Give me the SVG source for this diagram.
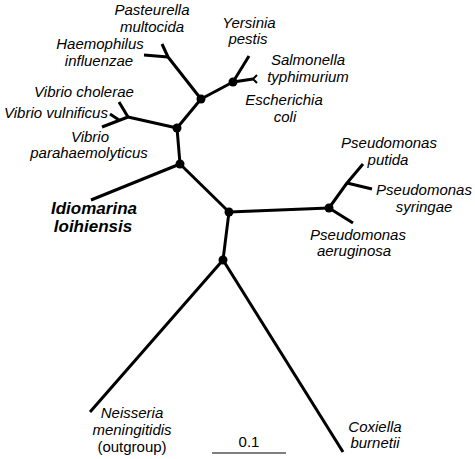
<svg xmlns="http://www.w3.org/2000/svg" width="475" height="459" viewBox="0 0 475 459">
<style>
.e{stroke:#000;stroke-width:3;fill:none;stroke-linecap:butt;stroke-linejoin:round}
.n{fill:#000}
text{font-family:"Liberation Sans",Arial,sans-serif;font-size:15px;font-style:italic;fill:#000;text-anchor:middle}
.b{font-weight:bold;font-size:17px}
.r{font-style:normal}
</style>
<rect width="475" height="459" fill="#fff"/>
<g id="connectors">
<path class="e" d="M223,260 L90,412"/>
<path class="e" d="M223,260 L343,452"/>
<path class="e" d="M223,260 L229,212"/>
<path class="e" d="M229,212 L329,208"/>
<path class="e" d="M229,212 L180,164"/>
<path class="e" d="M180,164 L91,200"/>
<path class="e" d="M180,164 L177,128"/>
<path class="e" d="M177,128 L128,117 L102,127"/>
<path class="e" d="M128,117 L119,102"/>
<path class="e" d="M119,120 L110,114"/>
<path class="e" d="M177,128 L201,99"/>
<path class="e" d="M201,99 L168,57 L162,44"/>
<path class="e" d="M168,57 L144,55"/>
<path class="e" d="M201,99 L233,82"/>
<path class="e" d="M233,82 L249,56"/>
<path class="e" d="M233,82 L253,79"/>
<path class="e" d="M253,79 L257,75 M253,79 L257,83" style="stroke-width:2"/>
<path class="e" d="M329,208 L347,183 L363,164"/>
<path class="e" d="M347,183 L372,189"/>
<path class="e" d="M329,208 L353,223"/>
<path d="M212,453 L286,453" stroke="#000" stroke-width="1.2"/>
</g>
<g id="n1"><circle class="n" cx="223" cy="260" r="4.5"/></g>
<g id="n2"><circle class="n" cx="229" cy="212" r="4.5"/></g>
<g id="n3"><circle class="n" cx="329" cy="208" r="4.5"/></g>
<g id="n4"><circle class="n" cx="180" cy="164" r="4.5"/></g>
<g id="n5"><circle class="n" cx="177" cy="128" r="4.5"/></g>
<g id="n6"><circle class="n" cx="201" cy="99" r="4.5"/></g>
<g id="n7"><circle class="n" cx="233" cy="82" r="4.5"/></g>
<g id="pasteurella"><text x="152" y="15">Pasteurella</text><text x="152" y="32">multocida</text></g>
<g id="haemophilus"><text x="100" y="49">Haemophilus</text><text x="99" y="66">influenzae</text></g>
<g id="vcholerae"><text x="84" y="97">Vibrio cholerae</text></g>
<g id="vvulnificus"><text x="56" y="118">Vibrio vulnificus</text></g>
<g id="vpara"><text x="90" y="142">Vibrio</text><text x="89" y="158">parahaemolyticus</text></g>
<g id="idiomarina"><text class="b" x="94" y="214">Idiomarina</text><text class="b" x="93" y="232">loihiensis</text></g>
<g id="yersinia"><text x="249" y="28">Yersinia</text><text x="248" y="44">pestis</text></g>
<g id="salmonella"><text x="308" y="65">Salmonella</text><text x="308" y="82">typhimurium</text></g>
<g id="ecoli"><text x="284" y="105">Escherichia</text><text x="285" y="122">coli</text></g>
<g id="pputida"><text x="389" y="148">Pseudomonas</text><text x="388" y="165">putida</text></g>
<g id="psyringae"><text x="424" y="195">Pseudomonas</text><text x="424" y="212">syringae</text></g>
<g id="paeruginosa"><text x="358" y="240">Pseudomonas</text><text x="354" y="256">aeruginosa</text></g>
<g id="neisseria"><text x="132" y="418">Neisseria</text><text x="132" y="435">meningitidis</text><text class="r" x="132" y="452">(outgroup)</text></g>
<g id="coxiella"><text x="375" y="432">Coxiella</text><text x="375" y="448">burnetii</text></g>
<g id="scale"><text class="r" x="249" y="447">0.1</text></g>
</svg>
